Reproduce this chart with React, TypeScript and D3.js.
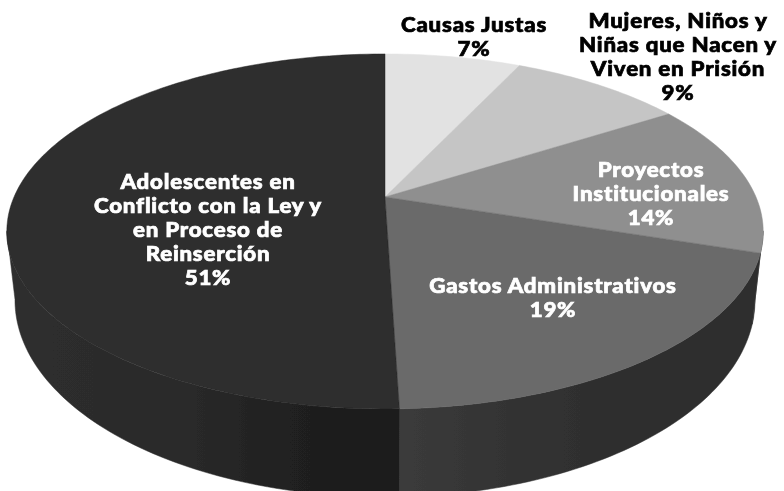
import * as d3 from 'd3';

const width = 784;
const height = 491;

// slice order runs clockwise from 12 o'clock
const categories = ['Causas Justas', 'Mujeres, Niños y Niñas', 'Proyectos Institucionales', 'Gastos Administrativos', 'Adolescentes'];
const values = [7, 9, 14, 19.5, 50.5];
const topColors = ['#e2e2e2', '#c5c5c5', '#8f8f8f', '#6a6a6a', '#2d2d2d'];
const wallColors = ['#333333', '#333333', '#3a3a3a', 'url(#wallRight)', 'url(#wallLeft)'];

const labelLines = [
  ['Causas Justas', '7%'],
  ['Mujeres, Niños y', 'Niñas que Nacen y', 'Viven en Prisión', '9%'],
  ['Proyectos', 'Institucionales', '14%'],
  ['Gastos Administrativos', '19%'],
  ['Adolescentes en', 'Conflicto con la Ley y', 'en Proceso de', 'Reinserción', '51%']
];
const labelColors = ['#000', '#000', '#fff', '#fff', '#fff'];
const labelX = [474, 678, 651, 553, 208];
const labelY = [32, 28, 177, 293, 189];
const labelStep = 24;

// tilted disc: a unit circle seen in perspective, so the centre sits above the ellipse middle
const topFace = { cx: 385, cy: 197, r: 371, ry: 170.8, p: -0.194 };
const bottomFace = { cx: 385, cy: 261.8, r: 363, ry: 189.6, p: -0.194 };
const wallFrom = (101 * Math.PI) / 180;
const wallTo = (259 * Math.PI) / 180;

type Face = typeof topFace;

function project(face: Face, a: number): [number, number] {
  const u = Math.sin(a);
  const v = -Math.cos(a);
  const w = 1 + face.p * v;
  return [face.cx + (face.r * u) / w, face.cy + (face.ry * v) / w];
}

function sampleAngles(a0: number, a1: number) {
  const n = Math.max(2, Math.ceil((a1 - a0) / 0.02));
  return d3.range(n + 1).map(i => a0 + ((a1 - a0) * i) / n);
}

export default function App() {
  const arcs = d3.pie<number>().sort(null)(values);
  const line = d3.line();

  const slicePath = (a0: number, a1: number) =>
    line([[topFace.cx, topFace.cy], ...sampleAngles(a0, a1).map(a => project(topFace, a))]) + 'Z';

  const wallPath = (a0: number, a1: number) => {
    const s = Math.max(a0, wallFrom);
    const e = Math.min(a1, wallTo);
    if (e <= s) return null;
    const angles = sampleAngles(s, e);
    return (
      line([
        ...angles.map(a => project(topFace, a)),
        ...angles.slice().reverse().map(a => project(bottomFace, a))
      ]) + 'Z'
    );
  };

  return (
    <svg
      width={width}
      height={height}
      viewBox={`0 0 ${width} ${height}`}
      style={{ position: 'absolute', left: 0, top: 0, display: 'block' }}
    >
      <defs>
        <linearGradient id="wallLeft" gradientUnits="userSpaceOnUse" x1="8" x2="400" y1="0" y2="0">
          <stop offset="0" stopColor="#2e2e2e" />
          <stop offset="0.45" stopColor="#2a2a2a" />
          <stop offset="0.72" stopColor="#202020" />
          <stop offset="1" stopColor="#1b1b1b" />
        </linearGradient>
        <linearGradient id="wallRight" gradientUnits="userSpaceOnUse" x1="399" x2="763" y1="0" y2="0">
          <stop offset="0" stopColor="#3b3b3b" />
          <stop offset="0.3" stopColor="#333333" />
          <stop offset="0.6" stopColor="#2d2d2d" />
          <stop offset="1" stopColor="#2f2f2f" />
        </linearGradient>
        <filter id="soft" x="-5%" y="-5%" width="110%" height="110%">
          <feGaussianBlur stdDeviation="0.7" />
        </filter>
        <filter id="softText" x="-5%" y="-5%" width="110%" height="110%">
          <feGaussianBlur stdDeviation="0.3" />
        </filter>
      </defs>
      <g filter="url(#soft)">
        {arcs.map((d, i) => {
          const p = wallPath(d.startAngle, d.endAngle);
          return p ? <path key={categories[i]} d={p} fill={wallColors[i]} stroke={wallColors[i]} strokeWidth={0.5} /> : null;
        })}
        {arcs.map((d, i) => (
          <path
            key={categories[i]}
            d={slicePath(d.startAngle, d.endAngle)}
            fill={topColors[i]}
            stroke={topColors[i]}
            strokeWidth={0.5}
          />
        ))}
      </g>
      <g
        fontFamily="Lato, 'Open Sans', sans-serif"
        fontWeight={900}
        fontSize={19.9}
        textAnchor="middle"
        letterSpacing={0.7}
        filter="url(#softText)"
      >
        {labelLines.map((lines, i) =>
          lines.map((t, j) => (
            <text
              key={t}
              transform={`translate(${labelX[i]},${labelY[i] + j * labelStep}) scale(1.12,1)`}
              fill={labelColors[i]}
              stroke={labelColors[i]}
              strokeWidth={0.7}
            >
              {t}
            </text>
          ))
        )}
      </g>
    </svg>
  );
}
